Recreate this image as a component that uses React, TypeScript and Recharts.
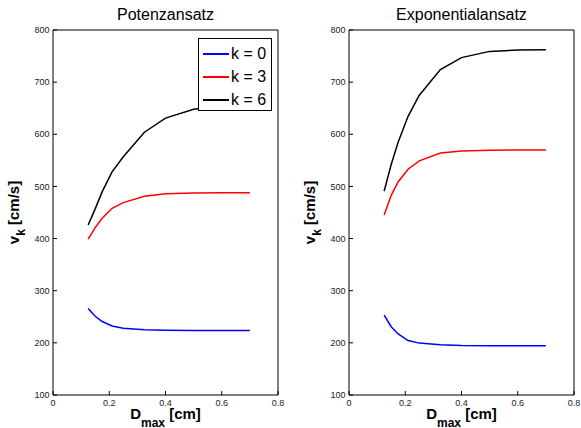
import React from 'react';
import { LineChart, Line, XAxis, YAxis, Legend } from 'recharts';

// ---- data ----
const dMax = [0.125, 0.15, 0.175, 0.21, 0.25, 0.325, 0.4, 0.5, 0.6, 0.7];
const potK0 = [266, 251, 241, 232.5, 228, 225, 224, 223.5, 223.5, 223.5];
const potK3 = [399, 421, 439, 458, 469, 481, 486, 487.5, 488, 488];
const potK6 = [426, 457, 490, 528, 557, 604, 631, 648, 655, 658];
const expK0 = [253, 231, 217, 204.5, 199.5, 196.3, 195, 194.5, 194.3, 194.3];
const expK3 = [445, 483, 509, 533, 549, 564, 568, 569.5, 570, 570];
const expK6 = [491, 542, 585, 634.5, 675, 724, 747, 759, 761.5, 762];
const seriesNames = ['k = 0', 'k = 3', 'k = 6'];
const seriesColors = ['#0000ff', '#ff0000', '#000000'];
const titles = ['Potenzansatz', 'Exponentialansatz'];
const xTicks = [0, 0.2, 0.4, 0.6, 0.8];
const yTicks = [100, 200, 300, 400, 500, 600, 700, 800];

const FONT = '"Liberation Sans", Arial, Helvetica, sans-serif';

const build = (a: number[], b: number[], c: number[]) =>
  dMax.map((d, i) => ({ D: d, k0: a[i], k3: b[i], k6: c[i] }));

const potData = build(potK0, potK3, potK6);
const expData = build(expK0, expK3, expK6);

const YTitle = (props: any) => {
  const vb = props.viewBox || {};
  const cx = vb.x - 4.5;
  const cy = vb.y + vb.height / 2;
  return (
    <text
      x={cx}
      y={cy}
      transform={`rotate(-90 ${cx} ${cy})`}
      textAnchor="middle"
      fontFamily={FONT}
      fontWeight="bold"
      fontSize={15}
      fill="#000"
    >
      v<tspan fontSize={12} dy={6}>k</tspan>
      <tspan dy={-6}> [cm/s]</tspan>
    </text>
  );
};

const XTitle = (props: any) => {
  const vb = props.viewBox || {};
  const cx = vb.x + vb.width / 2;
  const cy = vb.y + 24;
  return (
    <text x={cx} y={cy} textAnchor="middle" fontFamily={FONT} fontWeight="bold" fontSize={15} fill="#000">
      D<tspan fontSize={12} dy={7.5}>max</tspan>
      <tspan dy={-7.5}> [cm]</tspan>
    </text>
  );
};

const makeTopTitle = (title: string) => (props: any) => {
  const vb = props.viewBox || {};
  return (
    <text x={vb.x + vb.width / 2} y={vb.y + vb.height - 10} textAnchor="middle" fontFamily={FONT} fontSize={16} fill="#000">
      {title}
    </text>
  );
};

const LegendBox = (props: any) => {
  const payload = (props.payload || []).filter((p: any) => p.type !== 'none');
  return (
    <div
      style={{
        boxSizing: 'border-box',
        width: 74,
        height: 73,
        border: '1px solid #000',
        background: '#fff',
        paddingTop: 3,
      }}
    >
      {payload.map((p: any) => (
        <div key={p.value} style={{ display: 'flex', alignItems: 'center', height: 23 }}>
          <div style={{ width: 26, height: 0, borderTop: `2px solid ${p.color}`, marginLeft: 4, marginRight: 2 }} />
          <span style={{ fontSize: 16, fontFamily: FONT, lineHeight: '23px', color: '#000', whiteSpace: 'nowrap' }}>
            {p.value}
          </span>
        </div>
      ))}
    </div>
  );
};

const tickStyle = { fontSize: 9, fontFamily: FONT, fill: '#222' };

const Panel = ({ data, title, width, marginRight, showLegend }: any) => (
  <LineChart width={width} height={428} data={data} margin={{ top: 29, right: marginRight, bottom: 13, left: 23 }}>
    <XAxis
      dataKey="D"
      type="number"
      domain={[0, 0.8]}
      ticks={xTicks}
      interval={0}
      allowDataOverflow
      height={20}
      tickSize={-4}
      tickMargin={9}
      tick={tickStyle}
      axisLine={{ stroke: '#000' }}
      tickLine={{ stroke: '#000' }}
      label={XTitle}
    />
    <XAxis
      xAxisId="top"
      dataKey="D"
      orientation="top"
      type="number"
      domain={[0, 0.8]}
      ticks={xTicks}
      interval={0}
      allowDataOverflow
      height={1}
      tickSize={-4}
      tick={false}
      axisLine={{ stroke: '#000' }}
      tickLine={{ stroke: '#000' }}
      label={makeTopTitle(title)}
    />
    <YAxis
      type="number"
      domain={[100, 800]}
      ticks={yTicks}
      interval={0}
      allowDataOverflow
      width={30}
      tickSize={-4}
      tickMargin={7.5}
      tick={tickStyle}
      axisLine={{ stroke: '#000' }}
      tickLine={{ stroke: '#000' }}
      label={YTitle}
    />
    <YAxis
      yAxisId="right"
      orientation="right"
      type="number"
      domain={[100, 800]}
      ticks={yTicks}
      interval={0}
      allowDataOverflow
      width={1}
      tickSize={-4}
      tick={false}
      axisLine={{ stroke: '#000' }}
      tickLine={{ stroke: '#000' }}
    />
    {['k0', 'k3', 'k6'].map((k, i) => (
      <Line
        key={k}
        dataKey={k}
        name={seriesNames[i]}
        stroke={seriesColors[i]}
        strokeWidth={1.5}
        dot={false}
        activeDot={false}
        isAnimationActive={false}
        type="linear"
      />
    ))}
    <Line
      xAxisId="top"
      yAxisId="right"
      dataKey="k0"
      stroke="none"
      strokeWidth={0}
      dot={false}
      activeDot={false}
      legendType="none"
      isAnimationActive={false}
    />
    {showLegend && (
      <Legend
        layout="horizontal"
        verticalAlign="middle"
        align="center"
        content={LegendBox}
        wrapperStyle={{ position: 'absolute', left: 198, top: 38, width: 74, height: 73 }}
      />
    )}
  </LineChart>
);

export default function App() {
  return (
    <div style={{ position: 'absolute', left: 0, top: 0, width: 581, height: 428, background: '#fff', overflow: 'hidden' }}>
      <div style={{ position: 'absolute', left: 0, top: 0 }}>
        <Panel data={potData} title={titles[0]} width={290} marginRight={11} showLegend />
      </div>
      <div style={{ position: 'absolute', left: 296, top: 0 }}>
        <Panel data={expData} title={titles[1]} width={285} marginRight={6} showLegend={false} />
      </div>
    </div>
  );
}
